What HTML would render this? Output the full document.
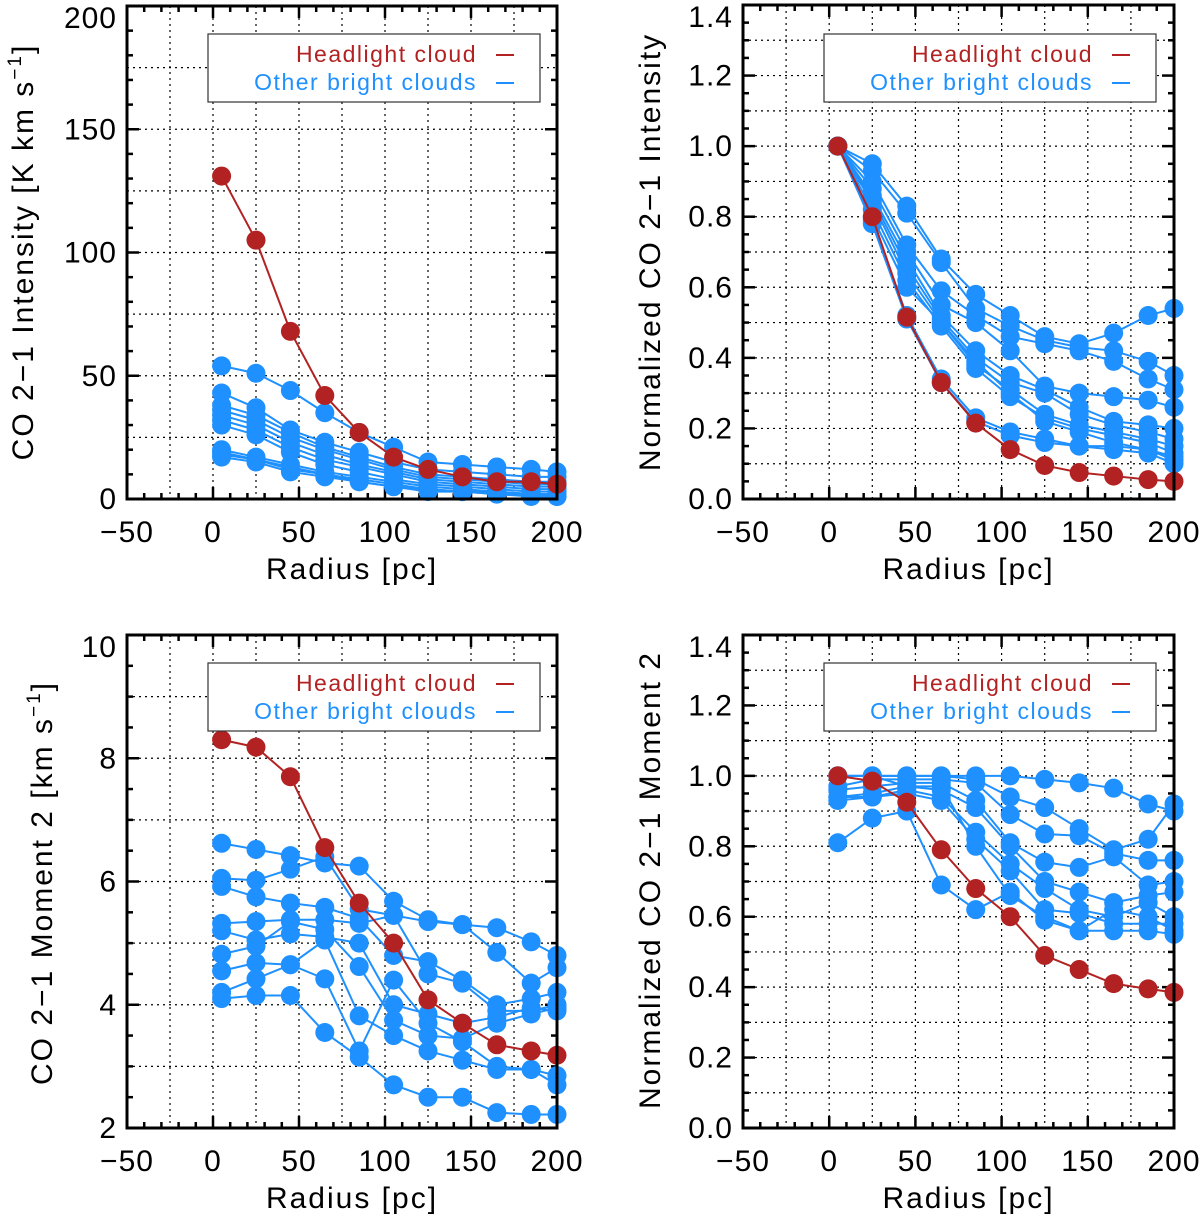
<!DOCTYPE html>
<html><head><meta charset="utf-8"><style>
html,body{margin:0;padding:0;background:#fff;}
svg{display:block;font-family:"Liberation Sans",sans-serif;}
</style></head><body>
<svg id="fig" width="1200" height="1221" viewBox="0 0 1200 1221" xmlns="http://www.w3.org/2000/svg"></svg>
<script>
const radii = [5,25,45,65,85,105,125,145,165,185,200];
const xTicks = [-50,0,50,100,150,200];

const intensityHeadlight = [131,105,68,42,27,17,12,9,7,7,6];
const intensityOthers = [
 [54,51,44,35,27,21,15,14,13,12,11],
 [43,37,28,23,19,15,12,11,10,9,9],
 [38,34,27,21,17,13,10,9,8,7,7],
 [36,32,25,20,16,12,9,8,7,6,6],
 [34,30,23,18,14,11,8,7,6,5,5],
 [32,28,21,16,13,10,7,6,5,4,4],
 [30,26,19,14,11,8,6,5,4,3,3],
 [20,17,14,11,9,7,5,4,3,2,2],
 [19,16,13,10,8,6,4,3,3,2,2],
 [18,16,12,10,7,5,4,3,2,2,1],
 [17,15,11,9,7,5,3,3,2,1,1]];
const intensityTicks = ["0","50","100","150","200"];

const normIntHeadlight = [1,0.8,0.515,0.33,0.215,0.14,0.095,0.075,0.065,0.055,0.05];
const normIntOthers = [
 [1,0.95,0.83,0.68,0.58,0.52,0.46,0.44,0.47,0.52,0.54],
 [1,0.93,0.81,0.67,0.54,0.49,0.45,0.43,0.42,0.39,0.35],
 [1,0.90,0.72,0.59,0.52,0.46,0.44,0.42,0.39,0.34,0.31],
 [1,0.88,0.70,0.55,0.50,0.42,0.32,0.30,0.29,0.28,0.26],
 [1,0.86,0.68,0.52,0.42,0.35,0.31,0.26,0.22,0.21,0.20],
 [1,0.85,0.66,0.51,0.40,0.33,0.30,0.24,0.21,0.19,0.17],
 [1,0.84,0.64,0.50,0.38,0.31,0.24,0.21,0.19,0.17,0.15],
 [1,0.82,0.62,0.49,0.37,0.29,0.23,0.20,0.18,0.16,0.13],
 [1,0.80,0.60,0.50,0.39,0.30,0.22,0.19,0.16,0.14,0.12],
 [1,0.79,0.52,0.34,0.23,0.19,0.17,0.15,0.15,0.14,0.11],
 [1,0.78,0.51,0.33,0.22,0.18,0.16,0.15,0.14,0.13,0.10]];
const normTicks = ["0.0","0.2","0.4","0.6","0.8","1.0","1.2","1.4"];

const mom2Headlight = [8.3,8.18,7.7,6.55,5.65,5.0,4.08,3.7,3.35,3.25,3.18];
const mom2Others = [
 [6.62,6.52,6.42,6.3,6.25,5.68,5.38,5.3,5.25,5.02,4.8],
 [6.05,6.02,6.2,6.4,5.55,5.45,5.35,5.3,4.85,4.35,4.6],
 [5.92,5.75,5.65,5.58,5.4,4.8,4.7,4.4,4.0,4.1,4.2],
 [5.32,5.35,5.38,5.38,5.32,5.45,4.5,4.35,3.9,3.9,4.0],
 [5.2,5.05,5.15,5.1,5.0,4.0,3.85,3.7,3.8,3.95,3.9],
 [4.82,4.95,5.35,5.22,4.62,3.75,3.5,3.45,3.7,3.85,3.95],
 [4.55,4.68,4.65,5.05,3.82,3.5,3.25,3.1,2.95,2.95,2.85],
 [4.2,4.42,4.65,4.42,3.25,4.4,3.7,3.4,3.0,2.95,2.7],
 [4.1,4.15,4.15,3.55,3.15,2.7,2.5,2.5,2.25,2.22,2.22]];
const mom2Ticks = ["2","4","6","8","10"];

const normMom2Headlight = [1.0,0.985,0.925,0.79,0.68,0.6,0.49,0.45,0.41,0.395,0.385];
const normMom2Others = [
 [1,1,1,1,1,1,0.99,0.98,0.965,0.92,0.9],
 [1,1,1,1,0.99,0.94,0.91,0.85,0.79,0.82,0.92],
 [0.97,0.99,0.99,0.99,0.98,0.89,0.835,0.83,0.78,0.76,0.76],
 [0.96,0.97,0.98,0.98,0.93,0.81,0.755,0.74,0.77,0.69,0.70],
 [0.94,0.95,0.97,0.96,0.91,0.80,0.70,0.67,0.64,0.66,0.67],
 [0.94,0.94,0.96,0.94,0.84,0.75,0.68,0.62,0.60,0.64,0.60],
 [0.93,0.94,0.95,0.93,0.82,0.73,0.62,0.61,0.58,0.58,0.58],
 [0.81,0.88,0.90,0.69,0.62,0.67,0.59,0.56,0.56,0.56,0.55],
 [1,1,0.97,0.97,0.80,0.66,0.60,0.56,0.62,0.60,0.56]];

const NS = "http://www.w3.org/2000/svg";
const svg = document.getElementById('fig');
const RED = "#b22222", BLUE = "#1e90ff";
function mk(tag, attrs, parent){
  const e = document.createElementNS(NS, tag);
  for (const k in attrs) e.setAttribute(k, attrs[k]);
  (parent||svg).appendChild(e);
  return e;
}

function panel(o){
  const g = mk('g', {});
  
  
  const L=o.L, R=o.R, T=o.T, B=o.B;
  const sx = v => L + (v - (-50)) / 250 * (R - L);
  const sy = v => B - (v - o.ymin) / (o.ymax - o.ymin) * (B - T);
  for (let v=-25; v<200; v+=25){
    const l = mk('line',{x1:sx(v),x2:sx(v),y1:T,y2:B,stroke:"#000","stroke-width":1.2,"stroke-dasharray":"2,4"},g);
    
    
  }
  for (let v=o.ymin+o.grid; v<o.ymax-1e-9; v+=o.grid){
    const l = mk('line',{x1:L,x2:R,y1:sy(v),y2:sy(v),stroke:"#000","stroke-width":1.2,"stroke-dasharray":"2,4"},g);
    
    
  }
  for (let v=-50; v<=200; v+=10){
    const len = (v%50===0)?12:6;
    mk('line',{x1:sx(v),x2:sx(v),y1:B,y2:B-len,stroke:"#000","stroke-width":2.5},g);
    mk('line',{x1:sx(v),x2:sx(v),y1:T,y2:T+len,stroke:"#000","stroke-width":2.5},g);
  }
  const nMinor = Math.round((o.ymax-o.ymin)/o.minor);
  for (let i=0;i<=nMinor;i++){
    const v = o.ymin + i*o.minor;
    const isMaj = Math.abs(((v-o.ymin)/o.major) - Math.round((v-o.ymin)/o.major))<1e-6;
    const len = isMaj?12:6;
    mk('line',{x1:L,x2:L+len,y1:sy(v),y2:sy(v),stroke:"#000","stroke-width":2.5},g);
    mk('line',{x1:R,x2:R-len,y1:sy(v),y2:sy(v),stroke:"#000","stroke-width":2.5},g);
  }
  const drawSeries = (vals, color, nm) => {
    const pts = vals.map((v,i)=>sx(radii[i])+","+sy(v)).join(" ");
    const pl = mk('polyline',{points:pts,fill:"none",stroke:color,"stroke-width":2},g);
    
    
    vals.forEach((v,i)=>{
      const c = mk('circle',{cx:sx(radii[i]),cy:sy(v),r:9.5,fill:color},g);
      
      
    });
  };
  o.others.forEach((s,k)=>drawSeries(s, BLUE, 'other-cloud-'+(k+1)));
  drawSeries(o.head, RED, 'headlight-cloud');
  const fr = mk('rect',{x:L,y:T,width:R-L,height:B-T,fill:"none",stroke:"#000","stroke-width":3},g);
  
  
  xTicks.forEach(v=>{
    const t = mk('text',{x:sx(v),y:B+43,"font-size":30,"text-anchor":"middle","letter-spacing":"1"},g);
    t.textContent = v<0 ? "\u2212"+Math.abs(v) : String(v);
    
    
  });
  o.yt.forEach((s,i)=>{
    let y = sy(o.ymin + i*o.major) + 10;
    if (i===o.yt.length-1) y = Math.max(y, T+22);
    const t = mk('text',{x:L-10,y:y,"font-size":30,"text-anchor":"end","letter-spacing":"1"},g);
    t.textContent = s;
    
    
  });
  const xt = mk('text',{x:(L+R)/2+10,y:B+80,"font-size":30,"text-anchor":"middle","letter-spacing":"2"},g);
  xt.textContent = "Radius [pc]";
  
  
  const yt = mk('text',{x:0,y:0,"font-size":30,"text-anchor":"middle","letter-spacing":"2",transform:`translate(${o.ytx},${o.ytc}) rotate(-90)`},g);
  yt.innerHTML = o.ytitle;
  
  
  const lg = mk('g',{},g);
  
  
  const lx = L + (o.legL), ly = T + o.legT;
  mk('rect',{x:lx,y:ly,width:332,height:68,fill:"#fff",stroke:"#333","stroke-width":1.2},lg);
  const e1 = mk('text',{x:lx+269,y:ly+28,"font-size":23,"text-anchor":"end",fill:RED,"letter-spacing":"1.5"},lg);
  e1.textContent="Headlight cloud";
  
  
  mk('line',{x1:lx+288,x2:lx+306,y1:ly+21,y2:ly+21,stroke:RED,"stroke-width":2},lg);
  const e2 = mk('text',{x:lx+269,y:ly+56,"font-size":23,"text-anchor":"end",fill:BLUE,"letter-spacing":"1.5"},lg);
  e2.textContent="Other bright clouds";
  
  
  mk('line',{x1:lx+288,x2:lx+306,y1:ly+49,y2:ly+49,stroke:BLUE,"stroke-width":2},lg);
}

panel({name:'panel-intensity',L:127,R:557,T:6,B:499,ymin:0,ymax:200,major:50,minor:10,grid:25,
  yt:intensityTicks,head:intensityHeadlight,others:intensityOthers,legL:81,legT:28,
  ytx:33,ytc:252,ytitle:'CO 2\u22121 Intensity [K km s<tspan dy="-12" font-size="19">\u22121</tspan><tspan dy="12">]</tspan>'});
panel({name:'panel-normalized-intensity',L:743,R:1174,T:5,B:499,ymin:0,ymax:1.4,major:0.2,minor:0.05,grid:0.1,
  yt:normTicks,head:normIntHeadlight,others:normIntOthers,legL:81,legT:29,
  ytx:660,ytc:252,ytitle:'Normalized CO 2\u22121 Intensity'});
panel({name:'panel-moment2',L:127,R:557,T:635,B:1128,ymin:2,ymax:10,major:2,minor:0.5,grid:1,
  yt:mom2Ticks,head:mom2Headlight,others:mom2Others,legL:81,legT:28,
  ytx:52,ytc:883,ytitle:'CO 2\u22121 Moment 2 [km s<tspan dy="-12" font-size="19">\u22121</tspan><tspan dy="12">]</tspan>'});
panel({name:'panel-normalized-moment2',L:743,R:1174,T:635,B:1128,ymin:0,ymax:1.4,major:0.2,minor:0.05,grid:0.1,
  yt:normTicks,head:normMom2Headlight,others:normMom2Others,legL:81,legT:28,
  ytx:660,ytc:880,ytitle:'Normalized CO 2\u22121 Moment 2'});
</script>
</body></html>
